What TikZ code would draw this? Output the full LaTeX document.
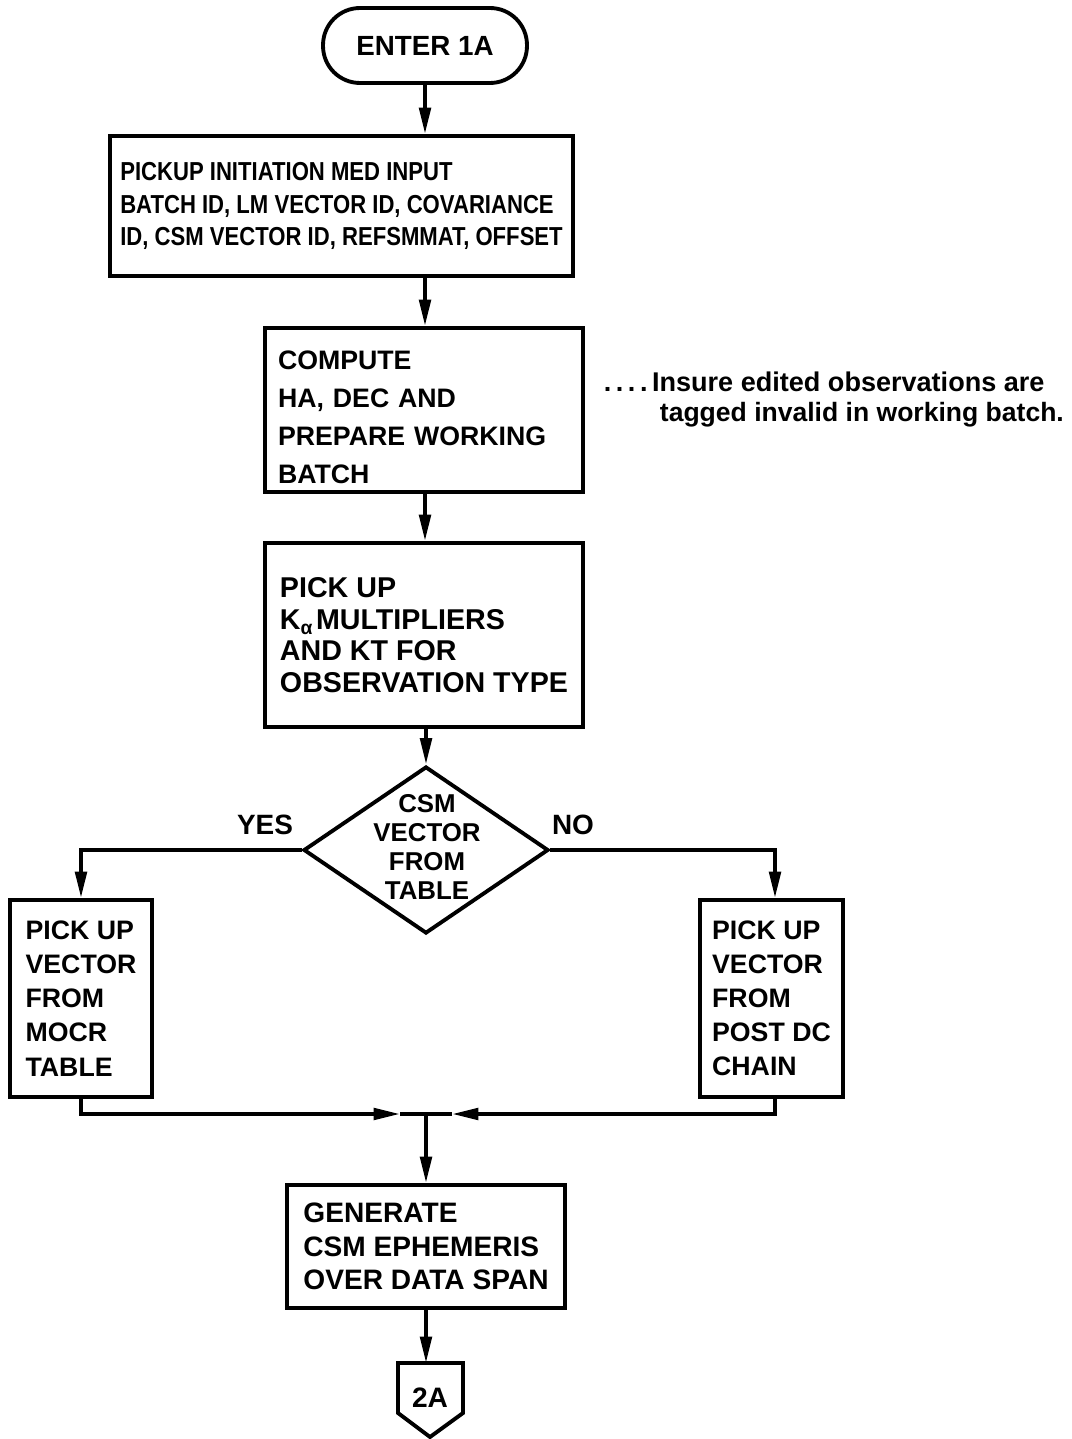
\documentclass[tikz,border=0pt]{standalone}
\usepackage{fontspec}
\setmainfont{Liberation Sans}
\newfontfamily\fa{Liberation Sans}[FakeStretch=0.85]
\newfontfamily\fn{Liberation Sans}
\usetikzlibrary{arrows.meta,shapes.geometric}
\begin{document}
\begin{tikzpicture}[x=0.02cm,y=-0.02cm,line width=2.2pt,
  box/.style={draw,rectangle,inner sep=0pt,align=left},
  arr/.style={-{Triangle[length=15pt,width=6.5pt]}},
  lbl/.style={inner sep=0pt,font=\fn\bfseries\fontsize{15.9}{18}\selectfont}]
\useasboundingbox (0,0) rectangle (1071,1439);
% nodes
\node[draw,rectangle,rounded corners=0.74cm,minimum width=4.08cm,minimum height=1.5cm,
  font=\fn\bfseries\fontsize{15.8}{18}\selectfont] (enter) at (425,45.5) {ENTER 1A};
\node[box,minimum width=9.26cm,minimum height=2.8cm,
  font=\fa\bfseries\fontsize{14.8}{18.7}\selectfont] (box1) at (341.5,206)
  {PICKUP INITIATION MED INPUT\\BATCH ID, LM VECTOR ID, COVARIANCE\\ID, CSM VECTOR ID, REFSMMAT, OFFSET};
\node[box,minimum width=6.36cm,minimum height=3.28cm,text width=5.84cm,inner xsep=0.26cm,
  font=\fn\bfseries\fontsize{15.2}{21.5}\selectfont] (box2) at (424,410)
  {\rule{0pt}{19pt}COMPUTE\\HA, DEC AND\\PREPARE WORKING\\BATCH};
\node[box,minimum width=6.36cm,minimum height=3.68cm,
  font=\fn\bfseries\fontsize{16.3}{17.9}\selectfont] (box3) at (424,635)
  {PICK UP\\K\raisebox{-3pt}{\fontsize{11}{11}\selectfont α}\hspace{2pt}MULTIPLIERS\\AND KT FOR\\OBSERVATION TYPE};
\node[draw,diamond,inner sep=0pt,minimum width=4.9cm,minimum height=3.34cm] (dec) at (426,850) {};
\node[inner sep=0pt,align=center,font=\fn\bfseries\fontsize{14.7}{16.4}\selectfont] (dtxt) at (427,847)
  {CSM\\VECTOR\\FROM\\TABLE};
\node[lbl] (yes) at (265,825) {YES};
\node[lbl] (no) at (573,825) {NO};
\node[box,minimum width=2.84cm,minimum height=3.94cm,
  font=\fn\bfseries\fontsize{15.2}{19.4}\selectfont] (mocr) at (81,998.5)
  {PICK UP\\VECTOR\\FROM\\MOCR\\TABLE};
\node[box,minimum width=2.86cm,minimum height=3.94cm,
  font=\fn\bfseries\fontsize{15.2}{19.4}\selectfont] (post) at (771.5,998.5)
  {PICK UP\\VECTOR\\FROM\\POST DC\\CHAIN};
\node[box,minimum width=5.56cm,minimum height=2.46cm,
  font=\fn\bfseries\fontsize{16}{19}\selectfont] (gen) at (426,1246.5)
  {GENERATE\\CSM EPHEMERIS\\OVER DATA SPAN};
\node[anchor=base west,inner sep=0pt,font=\fn\bfseries\fontsize{15.4}{18}\selectfont] (note1) at (602,391)
  {.\,.\,.\,.\,Insure edited observations are};
\node[anchor=base west,inner sep=0pt,font=\fn\bfseries\fontsize{15.1}{18}\selectfont] (note2) at (658,421)
  {tagged invalid in working batch.};
% off-page connector
\draw (398,1363) -- (463,1363) -- (463,1413) -- (430,1437) -- (398,1413) -- cycle;
\node[inner sep=0pt,font=\fn\bfseries\fontsize{16}{18}\selectfont] (c2a) at (430,1398) {2A};
\coordinate (p2top) at (426,1363);
\coordinate (jl) at (400,1114);
\coordinate (jr) at (452,1114);
\coordinate (j) at (426,1114);
% connectors
\draw[arr] (enter.south) -- (enter.south |- box1.north);
\draw[arr] (box1.south -| enter.south) -- (box2.north -| enter.south);
\draw[arr] (box2.south -| enter.south) -- (box3.north -| enter.south);
\draw[arr] (box3.south -| dec.north) -- (dec.north);
\draw[arr] (dec.west) -| (mocr.north);
\draw[arr] (dec.east) -| ([xshift=3.5*0.02cm]post.north);
\draw[arr] (mocr.south) |- (jl);
\draw (jl) -- (j);
\draw[arr] ([xshift=3.5*0.02cm]post.south) |- (jr);
\draw (jr) -- (j);
\draw[arr] (j) -- (gen.north);
\draw[arr] (gen.south) -- (p2top);
\end{tikzpicture}
\end{document}
